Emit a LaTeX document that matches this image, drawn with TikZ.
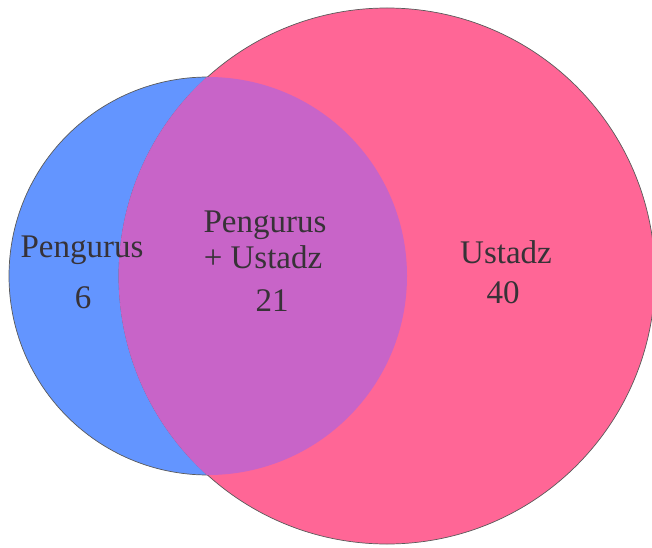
\documentclass[tikz,border=0pt]{standalone}
\usepackage{fontspec}
\setmainfont{Liberation Serif}
\usepackage{tikz}
\usetikzlibrary{positioning}
\definecolor{PengBlue}  {RGB}{ 99, 149, 255}
\definecolor{UstPink}   {RGB}{255, 102, 150}
\definecolor{BothPurple}{RGB}{200, 100, 200}
\definecolor{RimGray}   {RGB}{ 90,  90,  90}
\definecolor{LabelInk}  {RGB}{ 55,  50,  55}
\tikzset{
  vennlabel/.style={text=LabelInk, anchor=base, inner sep=0pt,
    font=\fontsize{33}{38}\selectfont},
  rim/.style={draw=RimGray, line width=0.7pt}
}
\begin{document}
\begin{tikzpicture}[x=1pt,y=1pt]
  \useasboundingbox (0,0) rectangle (652,547);
  \coordinate (pengC) at (208,271);
  \coordinate (ustC)  at (387,271);
  % the two sets
  \fill[PengBlue, rim] (pengC) circle (199);
  \fill[UstPink, rim]  (ustC) circle (268);
  % overlap
  \begin{scope}
    \clip (pengC) circle (199);
    \fill[BothPurple, draw=BothPurple, line width=0.8pt] (ustC) circle (268);
  \end{scope}
  % counts
  \node[vennlabel] (penLabel)  at (82,290)  {Pengurus};
  \node[vennlabel] (penCount)  at (83,239)  {6};
  \node[vennlabel] (bothLabel) at (265,315) {Pengurus};
  \node[vennlabel] (bothPlus)  at (263,279) {+ Ustadz};
  \node[vennlabel] (bothCount) at (272,236) {21};
  \node[vennlabel] (ustLabel)  at (506,284) {Ustadz};
  \node[vennlabel] (ustCount)  at (503,244) {40};
\end{tikzpicture}
\end{document}
